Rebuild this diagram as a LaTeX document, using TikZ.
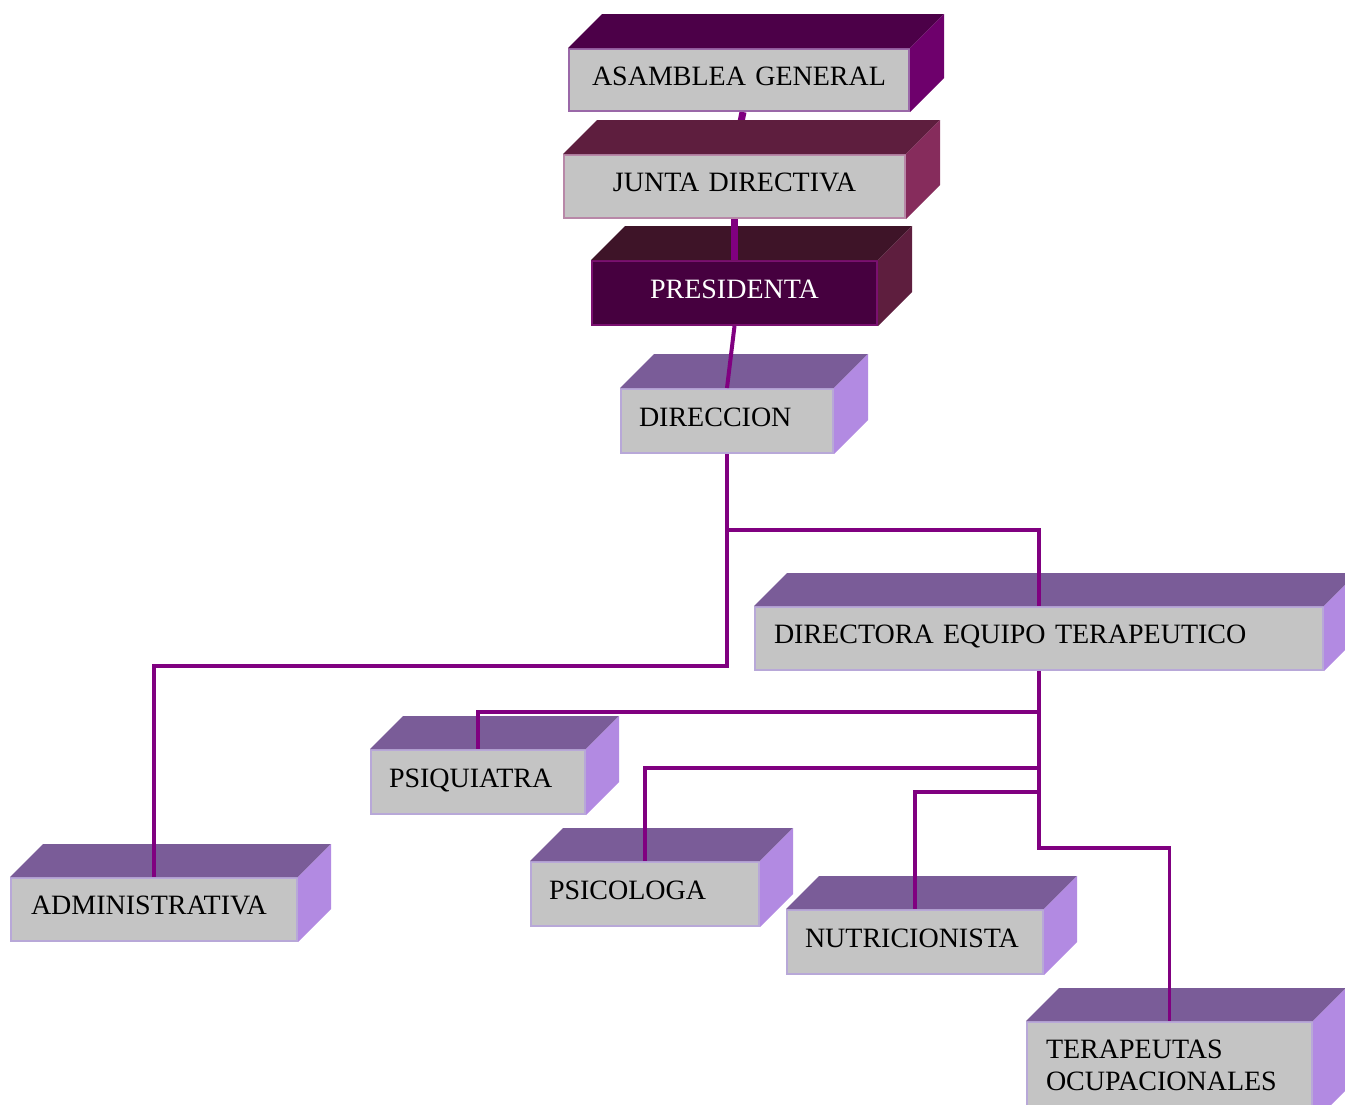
\documentclass[tikz,border=0pt]{standalone}
\usepackage{fontspec}
\setmainfont{Liberation Serif}
\pgfdeclarelayer{bg}
\pgfsetlayers{bg,main}
\definecolor{conncol}{HTML}{800080}
\definecolor{frontgray}{HTML}{C4C4C4}
\definecolor{agtop}{HTML}{4C0048}
\definecolor{agside}{HTML}{6E006C}
\definecolor{agborder}{HTML}{9A68A8}
\definecolor{jdtop}{HTML}{5E1E3E}
\definecolor{jdside}{HTML}{862C5C}
\definecolor{jdborder}{HTML}{B888A8}
\definecolor{prfront}{HTML}{46003F}
\definecolor{prtop}{HTML}{3E1428}
\definecolor{prside}{HTML}{5E1E3E}
\definecolor{prborder}{HTML}{7A1070}
\definecolor{lvtop}{HTML}{7A5C98}
\definecolor{lvside}{HTML}{B28AE2}
\definecolor{lvborder}{HTML}{B8A8D8}
\newcommand\boxfaces[4]{%
  \fill[#2] (#1.north west) -- ++(#4,-#4) -- ([shift={(#4,-#4)}]#1.north east) -- (#1.north east) -- cycle;
  \fill[#3] (#1.north east) -- ++(#4,-#4) -- ([shift={(#4,-#4)}]#1.south east) -- (#1.south east) -- cycle;
}
\tikzset{
  front/.style={draw=lvborder, fill=frontgray, line width=2, anchor=north west,
    inner ysep=0, minimum height=#1, text depth=8, font=\fontsize{28}{32}\selectfont, text=black},
  conn/.style={draw=conncol, line width=3.5},
}
\begin{document}
\begin{tikzpicture}[x=1pt,y=-1pt]
\clip (0,0) rectangle (1345,1104);
% top boxes
\node[front=62, draw=agborder, inner xsep=0, text width=340, align=center] (asamblea) at (568,48) {ASAMBLEA GENERAL};
\node[front=63, draw=jdborder, inner xsep=0, text width=341, align=center] (junta) at (563,154) {JUNTA DIRECTIVA};
\node[front=64, draw=prborder, fill=prfront, text=white, inner xsep=0, text width=285, align=center] (presidenta) at (591,260) {PRESIDENTA};
\node[front=64, inner xsep=18, text width=176, align=left] (direccion) at (620,388) {DIRECCION};
\node[front=63, inner xsep=19, text width=530, align=left] (directora) at (754,606) {DIRECTORA EQUIPO TERAPEUTICO};
\node[front=63, inner xsep=20, text width=246, align=left] (admin) at (10,877) {ADMINISTRATIVA};
\node[front=64, inner xsep=18, text width=178, align=left] (psiq) at (370,749) {PSIQUIATRA};
\node[front=64, inner xsep=18, text width=192, align=left] (psico) at (530,861) {PSICOLOGA};
\node[front=64, inner xsep=18, text width=220, align=left] (nutri) at (786,909) {NUTRICIONISTA};
\node[front=100, inner xsep=19, text width=247, align=left, text depth=46] (terap) at (1026,1021) {TERAPEUTAS\\OCUPACIONALES};
% 3D faces
\boxfaces{asamblea}{agtop}{agside}{34}
\boxfaces{junta}{jdtop}{jdside}{34}
\boxfaces{presidenta}{prtop}{prside}{34}
\boxfaces{direccion}{lvtop}{lvside}{34}
\boxfaces{directora}{lvtop}{lvside}{33}
\boxfaces{admin}{lvtop}{lvside}{33}
\boxfaces{psiq}{lvtop}{lvside}{33}
\boxfaces{psico}{lvtop}{lvside}{33}
\boxfaces{nutri}{lvtop}{lvside}{33}
\boxfaces{terap}{lvtop}{lvside}{33}
% connectors
\begin{pgfonlayer}{bg}
\draw[conn, line width=7] ([xshift=4]asamblea.south) -- (junta.north);
\end{pgfonlayer}
\draw[conn, line width=7] (junta.south) -- (presidenta.north);
\draw[conn, line width=4] (presidenta.south) -- (direccion.north);
\draw[conn] (direccion.south) -- ++(0,76) -| (directora.north);
\draw[conn] (direccion.south) -- ++(0,212) -| (admin.north);
\draw[conn] (directora.south) -- ++(0,41) -| (psiq.north);
\draw[conn] (directora.south) -- ++(0,97) -| (psico.north);
\draw[conn] (directora.south) -- ++(0,121) -| (nutri.north);
\draw[conn] (directora.south) -- ++(0,177) -| (terap.north);
\end{tikzpicture}
\end{document}
